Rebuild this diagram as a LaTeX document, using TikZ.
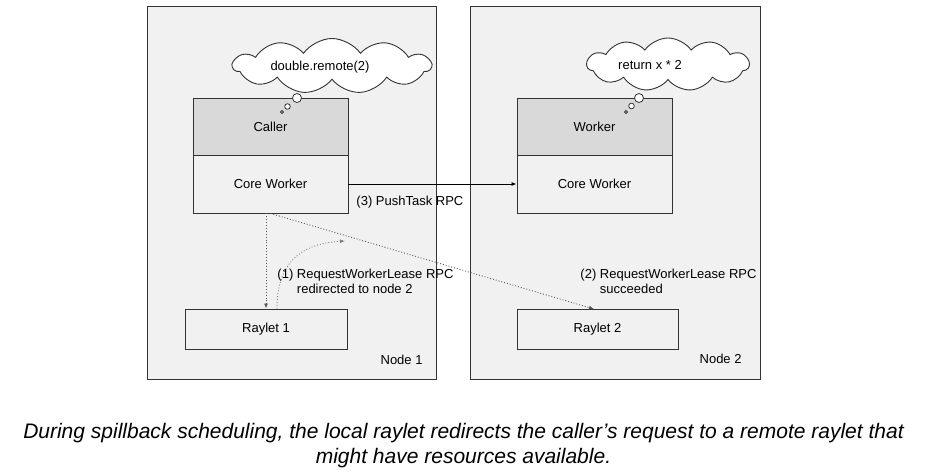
\documentclass[tikz,border=0pt]{standalone}
\usepackage{fontspec}
\setmainfont{Liberation Sans}
\usepackage{tikz}
\usepackage{xcolor}
\usetikzlibrary{arrows.meta,shapes.symbols}
\definecolor{nodebg}{HTML}{F1F1F1}
\definecolor{procbg}{HTML}{D9D9D9}
\definecolor{edge}{HTML}{333333}
\definecolor{dots}{HTML}{555555}

\begin{document}
\begin{tikzpicture}[x=1pt,y=-1pt,line width=0.9pt,
  font=\fontsize{13}{15}\selectfont,
  hostbox/.style={draw=edge,fill=nodebg,rectangle,inner sep=0pt},
  procbox/.style={draw=edge,fill=procbg,rectangle,inner sep=0pt,minimum width=155pt,minimum height=57pt},
  corebox/.style={draw=edge,fill=nodebg,rectangle,inner sep=0pt,minimum width=155pt,minimum height=58pt},
  rayletbox/.style={draw=edge,fill=nodebg,rectangle,inner sep=0pt,minimum height=40pt},
  thought/.style={cloud,draw=edge,fill=white,cloud puffs=11,cloud puff arc=110,inner sep=0pt},
  bubble/.style={draw=edge,fill=white,line width=0.8pt},
  rpc/.style={-{Latex[length=5pt,width=4pt]},black},
  lease/.style={dotted,dots,-{Latex[length=5pt,width=4pt]}},
  txt/.style={inner sep=0pt,align=left}]
\useasboundingbox (0,0) rectangle (927,476);

\node[hostbox,minimum width=289pt,minimum height=373pt] (node1) at (291.5,192.5) {};
\node[hostbox,minimum width=290pt,minimum height=373pt] (node2) at (615,192.5) {};
\node[txt,anchor=east] (node1lbl) at (423,360) {Node 1};
\node[txt,anchor=east] (node2lbl) at (742,359) {Node 2};

\node[thought,minimum width=198pt,minimum height=55pt] (cloud1) at (332,66) {};
\node[thought,minimum width=162pt,minimum height=53pt] (cloud2) at (668,64.5) {};
\node[txt] (call) at (320,67) {double.remote(2)};
\node[txt] (ret) at (650,65) {return x * 2};

\node[procbox] (caller) at (270.5,126.5) {Caller};
\node[corebox] (core1) at (270.5,184) {Core Worker};
\node[procbox] (worker) at (594.5,126.5) {Worker};
\node[corebox] (core2) at (594.5,184) {Core Worker};

\draw[bubble] (297,98) circle (4.5);
\draw[bubble] (287.5,106.5) circle (2.8);
\draw[bubble] (282,112) circle (1.5);
\draw[bubble] (639,98) circle (4.5);
\draw[bubble] (631.5,106) circle (2.8);
\draw[bubble] (626,112) circle (1.5);

\node[rayletbox,minimum width=162pt] (raylet1) at (266,329) {Raylet 1};
\node[rayletbox,minimum width=161pt] (raylet2) at (597.5,329.5) {Raylet 2};

\draw[rpc] (core1.east) -- (core2.west);
\node[txt,anchor=west] (push) at (356,202) {(3) PushTask RPC};

\coordinate (redirect) at (345,241);
\draw[lease] (core1.south -| raylet1.north) -- (raylet1.north);
\draw[lease,gray] ([xshift=11pt]raylet1.north) .. controls (277,255) and (310,243) .. (redirect);
\draw[lease] (core1.south) -- ([xshift=-3.5pt]raylet2.north);
\node[txt,anchor=west] (lease1) at (277,281.5) {(1) RequestWorkerLease RPC\\\hphantom{(1) }redirected to node 2};
\node[txt,anchor=west] (lease2) at (580,281.5) {(2) RequestWorkerLease RPC\\\hphantom{(2) }succeeded};

\node[align=center,inner sep=0pt,font=\fontsize{21}{25}\selectfont\itshape] (caption) at (463.5,445.5)
  {During spillback scheduling, the local raylet redirects the caller’s request to a remote raylet that\\might have resources available.};
\end{tikzpicture}
\end{document}
